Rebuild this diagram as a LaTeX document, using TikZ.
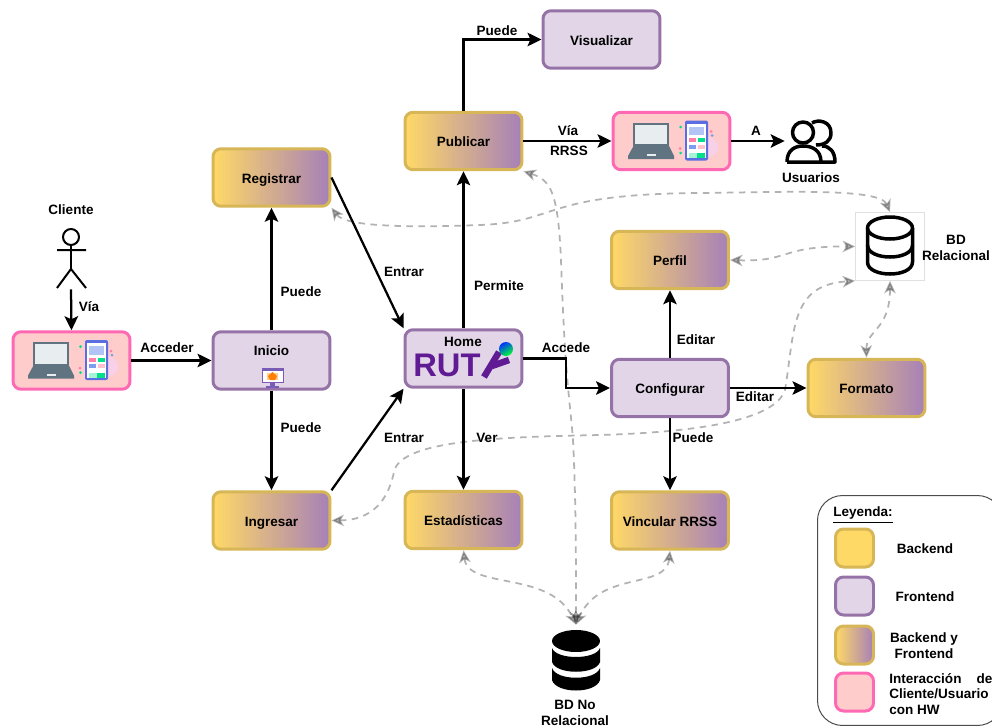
\documentclass[tikz,border=0pt]{standalone}
\usepackage{fontspec}
\setmainfont{Liberation Sans}
\usetikzlibrary{arrows.meta}
\definecolor{backfill}{HTML}{FFD966}
\definecolor{backline}{HTML}{D6B656}
\definecolor{frontfill}{HTML}{E1D5E7}
\definecolor{frontline}{HTML}{9673A6}
\definecolor{mixright}{HTML}{A680B8}
\definecolor{hwfill}{HTML}{FFCCCC}
\definecolor{hwline}{HTML}{FF69B4}
\definecolor{rutyviolet}{HTML}{5F1A94}
\definecolor{laptopgray}{HTML}{5F7380}
\definecolor{laptopscreen}{HTML}{E8EEF0}
\definecolor{phoneblue}{HTML}{5B6EE1}
\definecolor{tilepink}{HTML}{FF7FA8}
\definecolor{tilerose}{HTML}{FFC0D0}
\definecolor{tilegreen}{HTML}{00E08A}
\definecolor{tileblue}{HTML}{7F9CF0}
\definecolor{blobpink}{HTML}{F8D0E8}
\tikzset{
	box/.style={rounded corners=0.16cm,line width=0.06cm,minimum width=2.34cm,minimum height=1.15cm,inner sep=0pt,text height=1.7ex,text depth=0.5ex},
	backbox/.style={box,draw=backline,fill=backfill},
	frontbox/.style={box,draw=frontline,fill=frontfill},
	mixbox/.style={box,draw=backline,left color=backfill,right color=mixright},
	hwbox/.style={box,draw=hwline,fill=hwfill},
	swatch/.style={minimum width=0.76cm,minimum height=0.76cm},
	flow/.style={line width=0.045cm,-{Stealth[length=0.28cm,width=0.27cm,inset=0.06cm]}},
	dbline/.style={draw=black,opacity=0.3,line width=0.035cm,dash pattern=on 0.13cm off 0.11cm,{Stealth[length=0.25cm,width=0.23cm,inset=0.07cm]}-{Stealth[length=0.25cm,width=0.23cm,inset=0.07cm]}},
	icon/.style={line width=0.07cm,line join=round},
	devicepic/.pic={
		\fill[blobpink] (32,6) ellipse [x radius=15,y radius=11];
		\fill[laptopgray] (-38.5,-18.5) rectangle (-2.5,5);
		\fill[laptopscreen] (-36.5,-16.5) rectangle (-4.5,3);
		\fill[laptopgray] (-38,5) -- (-2.5,5) -- (2.5,15) -- (2.5,18) -- (-43.5,18) -- (-43.5,15) -- cycle;
		\fill[laptopscreen] (-25,13) rectangle (-16,15);
		\fill[phoneblue,rounded corners=0.04cm] (13.5,-20.5) rectangle (36.5,19.5);
		\fill[white] (15.5,-17.5) rectangle (34.5,17);
		\fill[tileblue!60] (17.5,-14.5) rectangle (32.5,-6);
		\fill[tilepink] (17,-3) rectangle (24.5,1);
		\fill[tilegreen] (26,-3) rectangle (33.5,1);
		\fill[tileblue] (17,3.5) rectangle (24.5,7.5);
		\fill[tilerose] (26,3.5) rectangle (33.5,7.5);
		\fill[tilegreen!35] (17,12) rectangle (25,17);
		\fill[tilegreen] (25,12) rectangle (33.5,17);
		\foreach \px/\py in {9/-14,9/12}
		{
			\fill[tilegreen] (\px,\py) circle [radius=1.5];
		}
		\fill[tilepink] (8.5,7.5) circle [radius=1.5];
		\fill[tilepink] (39.5,-9.5) circle [radius=1.5];
		\fill[tileblue] (40.5,-5.5) circle [radius=1.5];
	}
}
\begin{document}
\begin{tikzpicture}[x=0.02cm,y=-0.02cm,font=\fontsize{7.7}{9}\selectfont\bfseries]
	\clip (0,0) rectangle (992,727);

	% boxes
	\node[mixbox] (registrar) at (271.5,177.5) {Registrar};
	\node[frontbox] (inicio) at (271.5,360.5) {};
	\node at (271.5,351) {Inicio};
	\node[mixbox] (ingresar) at (271.5,520.5) {Ingresar};
	\node[hwbox] (equipo) at (71.5,360.5) {};
	\pic at (equipo) {devicepic};
	\node[frontbox] (home) at (463.5,358.5) {};
	\node[mixbox] (publicar) at (463.5,141) {Publicar};
	\node[frontbox] (visualizar) at (601.5,39.5) {Visualizar};
	\node[hwbox] (equipob) at (671.5,141) {};
	\pic at (equipob) {devicepic};
	\node[mixbox] (perfil) at (670,260) {Perfil};
	\node[frontbox] (configurar) at (670,388) {Configurar};
	\node[mixbox] (formato) at (866.5,388) {Formato};
	\node[mixbox] (estadisticas) at (463.5,520) {Estadísticas};
	\node[mixbox] (vincular) at (670,520.5) {Vincular RRSS};

	% icono de inicio
	\draw[frontline!80!blue,line width=0.02cm,fill=white] (262,368) rectangle (283,382);
	\fill[frontline!80!blue] (262,368) rectangle (283,371);
	\fill[orange!40] (267,373) rectangle (278,380);
	\fill[orange] (272.5,372) -- (277,376) -- (275,380) -- (270,380) -- (268,376) -- cycle;
	\fill[frontline!80!blue] (270,382) rectangle (275,386);
	\fill[frontline!80!blue] (266,386) rectangle (279,388);

	% logo de home
	\node at (463,342) {Home};
	\node[font=\fontsize{18.6}{20}\selectfont\bfseries,text=rutyviolet,anchor=west,inner sep=0pt] (ruty) at (413,365.5) {RUT};
	\draw[rutyviolet,line width=0.13cm] (484,377) -- (499,352);
	\draw[rutyviolet,line width=0.13cm] (492,366) -- (509,360);
	\shade[left color=blue!80!cyan,right color=green!80!cyan,shading angle=30] (506,349) circle [radius=7];

	% bases de datos
	\node[draw=black!12,fill=white,minimum width=1.38cm,minimum height=1.36cm,inner sep=0pt] (bdrel) at (890,246.5) {};
	\draw[icon] (890,228) ellipse [x radius=22.5,y radius=11];
	\draw[icon] (867.5,228) -- (867.5,262) .. controls (867.5,278) and (912.5,278) .. (912.5,262) -- (912.5,228);
	\draw[icon] (867.5,245) .. controls (867.5,261) and (912.5,261) .. (912.5,245);
	\node[minimum width=0.96cm,minimum height=1.4cm,inner sep=0pt] (bdnorel) at (576,660) {};
	\fill (576,641) ellipse [x radius=24,y radius=11];
	\fill (552,648) .. controls (556,660) and (596,660) .. (600,648) -- (600,662) .. controls (596,675) and (556,675) .. (552,662) -- cycle;
	\fill (552,668) .. controls (556,681) and (596,681) .. (600,668) -- (600,680) .. controls (596,694) and (556,694) .. (552,680) -- cycle;

	% personas
	\node[minimum width=0.6cm,minimum height=1.04cm,inner sep=0pt] (cliente) at (71,263) {};
	\draw[line width=0.04cm] (71,237) circle [radius=8];
	\draw[line width=0.04cm] (71,245) -- (71,269) (57,250) -- (86,250) (57,288) -- (71,269) -- (86,288);
	\node[minimum width=1cm,minimum height=0.84cm,inner sep=0pt] (usuarios) at (810,141) {};
	\draw[icon] (803,132.5) circle [radius=10.5];
	\draw[icon] (812,123) .. controls (818,119) and (831,121) .. (831,133) .. controls (831,141) and (825,145) .. (816,145);
	\draw[icon] (787,162) .. controls (787,150) and (795,146) .. (803,146) .. controls (812,146) and (821,150) .. (821,162);
	\draw[icon] (787,162) -- (835,162) .. controls (835,152) and (830,146) .. (822,146);

	% flechas grises
	\draw[dbline] (registrar.south east) .. controls (345,226) and (400,228) .. (480,225) .. controls (560,222) and (540,194) .. (700,193) .. controls (790,192) and (880,188) .. (bdrel.north);
	\draw[dbline] (perfil.east) .. controls (790,262) and (780,246) .. (bdrel.west);
	\draw[dbline] (ingresar.east) .. controls (380,520) and (390,490) .. (394,472) .. controls (400,440) and (500,437) .. (600,435) .. controls (700,432) and (775,420) .. (785,390) .. controls (795,330) and (790,285) .. (bdrel.south west);
	\draw[dbline] (formato.north) .. controls (866,330) and (890,330) .. (bdrel.south);
	\draw[dbline] (publicar.south east) .. controls (550,180) and (558,190) .. (561,260) .. controls (565,380) and (570,400) .. (573,440) .. controls (576,500) and (576,560) .. (bdnorel.north);
	\draw[dbline] (estadisticas.south) .. controls (468,590) and (550,570) .. (bdnorel.north);
	\draw[dbline] (vincular.south) .. controls (666,590) and (600,570) .. (bdnorel.north);

	% flechas negras
	\draw[flow] (cliente.south) -- (equipo.north);
	\draw[flow] (equipo.east) -- (inicio.west);
	\draw[flow] (inicio.north) -- (registrar.south);
	\draw[flow] (inicio.south) -- (ingresar.north);
	\draw[flow] (registrar.east) -- (home.north west);
	\draw[flow] (ingresar.north east) -- (home.south west);
	\draw[flow] (home.north) -- (publicar.south);
	\draw[flow] (home.south) -- (estadisticas.north);
	\draw[flow] (publicar.north) |- (visualizar.west);
	\draw[flow] (publicar.east) -- (equipob.west);
	\draw[flow] (equipob.east) -- (usuarios.west);
	\draw[flow] (home.east) -- (566,358.5) |- (configurar.west);
	\draw[flow] (configurar.north) -- (perfil.south);
	\draw[flow] (configurar.east) -- (formato.west);
	\draw[flow] (configurar.south) -- (vincular.north);

	% textos
	\node at (71,210) {Cliente};
	\node at (89,307) {Vía};
	\node at (167,348) {Acceder};
	\node at (301,292) {Puede};
	\node at (301,428) {Puede};
	\node at (404,272) {Entrar};
	\node at (404,438) {Entrar};
	\node at (499,286) {Permite};
	\node at (566,348) {Accede};
	\node at (487,438) {Ver};
	\node at (497,31) {Puede};
	\node at (568,131) {Vía};
	\node at (569,151) {RRSS};
	\node at (756,131) {A};
	\node at (811,178) {Usuarios};
	\node[align=center] at (956,248) {BD\\Relacional};
	\node at (696,340) {Editar};
	\node at (755,397) {Editar};
	\node at (693,438) {Puede};
	\node[align=center] at (575,713) {BD No\\Relacional};

	% leyenda
	\node[draw=black!70,line width=0.02cm,rounded corners=0.5cm,minimum width=3.7cm,minimum height=4.6cm,inner sep=0pt] (leyendabox) at (910,610.5) {};
	\node at (863,515) {\underline{Leyenda:}};
	\foreach \i/\sy/\sstyle in {1/548/backbox,2/596/frontbox,3/645/mixbox,4/692/hwbox}
	{
		\node[\sstyle,swatch] (muestra\i) at (854.5,\sy) {};
	}
	\node at (925,549) {Backend};
	\node at (925,597) {Frontend};
	\node[align=center] at (924,646) {Backend y\\Frontend};
	\node[align=left,anchor=west,inner sep=0pt] at (889,694) {\makebox[2.06cm][s]{Interacción de}\\Cliente/Usuario\\con HW};
\end{tikzpicture}
\end{document}
